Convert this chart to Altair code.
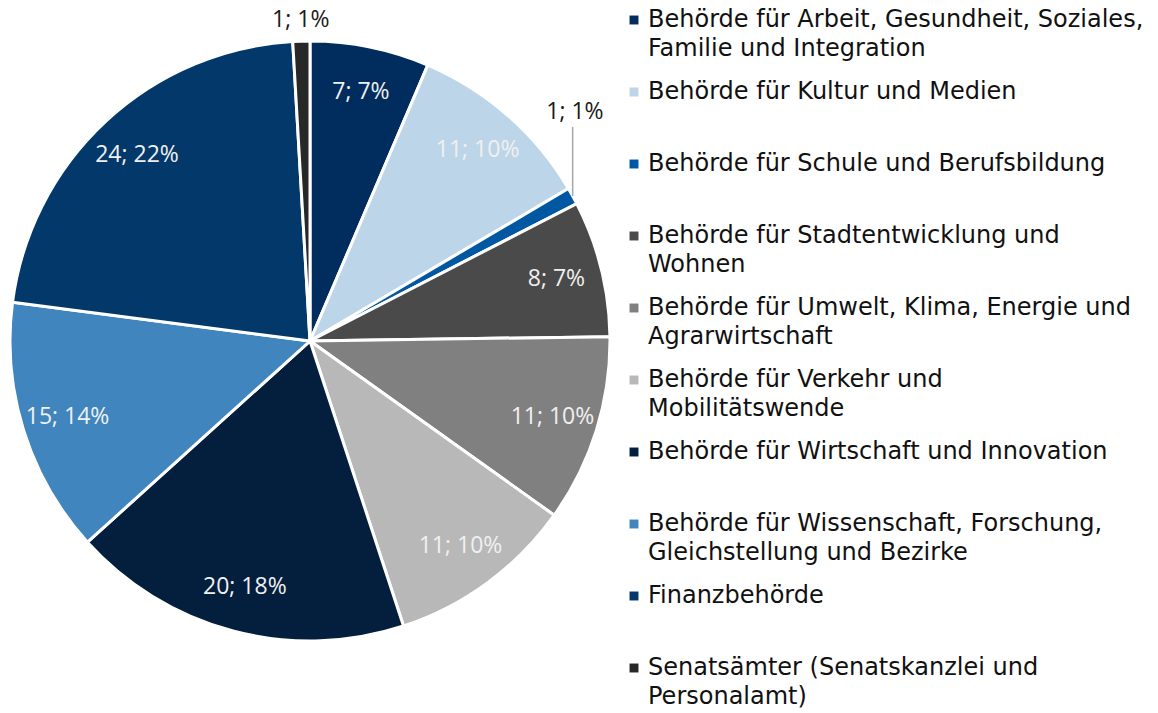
import altair as alt
import pandas as pd

names = [
    "Behörde für Arbeit, Gesundheit, Soziales, Familie und Integration",
    "Behörde für Kultur und Medien",
    "Behörde für Schule und Berufsbildung",
    "Behörde für Stadtentwicklung und Wohnen",
    "Behörde für Umwelt, Klima, Energie und Agrarwirtschaft",
    "Behörde für Verkehr und Mobilitätswende",
    "Behörde für Wirtschaft und Innovation",
    "Behörde für Wissenschaft, Forschung, Gleichstellung und Bezirke",
    "Finanzbehörde",
    "Senatsämter (Senatskanzlei und Personalamt)",
]
legend_lines = [
    ["Behörde für Arbeit, Gesundheit, Soziales,", "Familie und Integration"],
    ["Behörde für Kultur und Medien"],
    ["Behörde für Schule und Berufsbildung"],
    ["Behörde für Stadtentwicklung und", "Wohnen"],
    ["Behörde für Umwelt, Klima, Energie und", "Agrarwirtschaft"],
    ["Behörde für Verkehr und", "Mobilitätswende"],
    ["Behörde für Wirtschaft und Innovation"],
    ["Behörde für Wissenschaft, Forschung,", "Gleichstellung und Bezirke"],
    ["Finanzbehörde"],
    ["Senatsämter (Senatskanzlei und", "Personalamt)"],
]
values = [7, 11, 1, 8, 11, 11, 20, 15, 24, 1]
labels = ["7; 7%", "11; 10%", "1; 1%", "8; 7%", "11; 10%", "11; 10%",
          "20; 18%", "15; 14%", "24; 22%", "1; 1%"]
colors = ["#002d5e", "#bdd5e8", "#0058a3", "#4a4a4a", "#808080", "#b8b8b8",
          "#041e3d", "#4085bd", "#03386a", "#282828"]
placement = ["in", "in", "out_right", "in", "in", "in", "in", "in", "in", "out_top"]

PIE_FONT = "Open Sans"
LEG_FONT = "DejaVu Sans"
CX, CY, R = 310, 341, 300

df = pd.DataFrame({
    "name": names, "value": values, "label": labels,
    "idx": list(range(len(names))), "place": placement,
})

leg_rows = []
for i, lines in enumerate(legend_lines):
    for j, t in enumerate(lines):
        leg_rows.append({"name": names[i], "idx": i, "line": j, "text": t})
leg = pd.DataFrame(leg_rows)

color = alt.Color("name:N", scale=alt.Scale(domain=names, range=colors), legend=None)
theta = alt.Theta("value:Q", stack=True)
order = alt.Order("idx:Q", sort="ascending")

base = alt.Chart(df).encode(theta=theta, order=order, color=color,
                            x=alt.value(CX), y=alt.value(CY))

pie = base.mark_arc(outerRadius=R, stroke="white", strokeWidth=3)

inside = base.transform_calculate(
    t="datum.place == 'in' ? datum.label : ''"
).mark_text(radius=254, font=PIE_FONT, fontSize=23).encode(
    text="t:N", color=alt.value("#f0f0f0")
)

out_top = base.transform_calculate(
    t="datum.place == 'out_top' ? datum.label : ''"
).mark_text(radius=321, font=PIE_FONT, fontSize=23).encode(
    text="t:N", color=alt.value("#1a1a1a")
)

out_right = base.transform_calculate(
    t="datum.place == 'out_right' ? datum.label : ''"
).mark_text(radius=330, dx=-24, dy=-70, font=PIE_FONT, fontSize=23).encode(
    text="t:N", color=alt.value("#1a1a1a")
)

# leader line for the small slice labelled to the right
leader = alt.Chart(df).transform_window(
    cum="sum(value)", sort=[alt.SortField("idx")]
).transform_joinaggregate(total="sum(value)").transform_calculate(
    mid=f"(datum.cum - datum.value / 2) / datum.total * 2 * PI",
).transform_calculate(
    lx=f"{CX} + {R} * sin(datum.mid)",
    ly=f"{CY} - {R} * cos(datum.mid)",
).transform_calculate(
    ly2="datum.ly - 69"
).transform_filter("datum.place == 'out_right'").mark_rule(
    color="#a6a6a6", strokeWidth=1.5
).encode(
    x=alt.X("lx:Q", scale=None, axis=None),
    y=alt.Y("ly:Q", scale=None, axis=None),
    y2="ly2:Q",
)

# legend
yscale = alt.Scale(domain=[0, 10], range=[20, 740])
leg_base = alt.Chart(leg).transform_calculate(pos="datum.idx + datum.line * 29 / 72")

leg_text = leg_base.mark_text(align="left", baseline="middle", font=LEG_FONT,
                              fontSize=24, color="#111111").encode(
    x=alt.value(648),
    y=alt.Y("pos:Q", scale=yscale, axis=None),
    text="text:N",
)
leg_sym = leg_base.mark_square(size=80, opacity=1).encode(
    x=alt.value(634),
    y=alt.Y("pos:Q", scale=yscale, axis=None),
    color=color,
).transform_filter("datum.line == 0")

legend_layer = alt.layer(leg_sym, leg_text)

chart = alt.layer(pie, inside, out_top, out_right, leader, legend_layer).resolve_scale(
    x="independent", y="independent"
).properties(
    width=1158, height=713, padding=0, autosize=alt.AutoSizeParams(type="none")
).configure_view(stroke=None)

chart.save("out.html", embed_options={"renderer": "svg", "actions": False})
